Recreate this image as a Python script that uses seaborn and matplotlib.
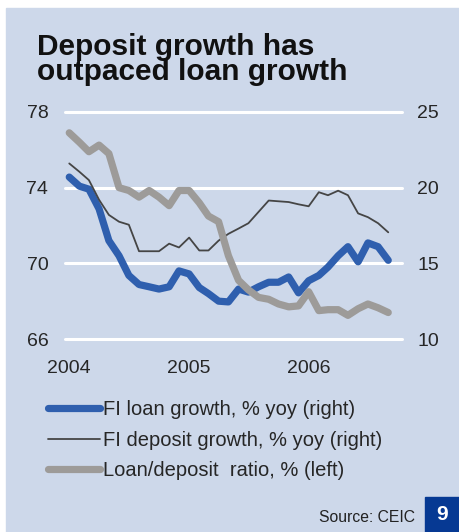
import pandas as pd
import seaborn as sns
import matplotlib.pyplot as plt
from matplotlib.patches import Rectangle
from matplotlib.lines import Line2D

# monthly data, Jan 2004 - Sep 2006
months = pd.date_range('2004-01-01', periods=33, freq='MS')

loan_growth = [20.7, 20.1, 19.9, 18.6, 16.5, 15.5, 14.2, 13.6, 13.45, 13.3, 13.45, 14.5,
               14.3, 13.4, 13.0, 12.5, 12.45, 13.3, 13.1, 13.45, 13.75, 13.75, 14.1, 13.05,
               13.85, 14.2, 14.75, 15.5, 16.1, 15.1, 16.35, 16.1, 15.2]
deposit_growth = [21.6, 21.05, 20.5, 19.2, 18.2, 17.75, 17.55, 15.8, 15.8, 15.8, 16.3, 16.05,
                  16.7, 15.85, 15.85, 16.5, 16.95, 17.3, 17.65, 18.4, 19.15, 19.1, 19.05, 18.9,
                  18.77, 19.7, 19.5, 19.8, 19.5, 18.3, 18.05, 17.65, 17.05]
ld_ratio = [76.9, 76.4, 75.9, 76.25, 75.8, 74.0, 73.85, 73.5, 73.85, 73.5, 73.05, 73.85,
            73.85, 73.2, 72.5, 72.2, 70.4, 69.1, 68.6, 68.2, 68.1, 67.85, 67.7, 67.75,
            68.5, 67.5, 67.55, 67.55, 67.25, 67.6, 67.85, 67.65, 67.4]

left_ticks = [66, 70, 74, 78]
right_ticks = [10, 15, 20, 25]
year_ticks = pd.to_datetime(['2004-01-01', '2005-01-01', '2006-01-01'])
year_labels = ['2004', '2005', '2006']

df = pd.DataFrame({'month': months, 'loan': loan_growth,
                   'deposit': deposit_growth, 'ratio': ld_ratio})

panel = '#cdd8ea'
blue = '#2f5fae'
dark = '#454545'
grey = '#9d9b99'

sns.set_style('white')
plt.rcParams['font.family'] = ['Liberation Sans', 'DejaVu Sans']

fig = plt.figure(figsize=(4.6, 5.32), dpi=100)
fig.patches.append(Rectangle((6 / 460, 0), 453 / 460, 524 / 532,
                             transform=fig.transFigure, color=panel, zorder=-10))

ax2 = fig.add_axes([65 / 460, 1 - 339 / 532, 337 / 460, 227 / 532])
ax = ax2.twinx()
ax.set_zorder(ax2.get_zorder() + 1)
ax.patch.set_visible(False)
ax2.set_facecolor(panel)

# right axis: growth rates
sns.lineplot(data=df, x='month', y='loan', ax=ax2, color=blue, linewidth=5.2,
             solid_capstyle='round', solid_joinstyle='round')
sns.lineplot(data=df, x='month', y='deposit', ax=ax2, color=dark, linewidth=1.3)
# left axis: loan/deposit ratio
sns.lineplot(data=df, x='month', y='ratio', ax=ax, color=grey, linewidth=5.2,
             solid_capstyle='round', solid_joinstyle='round')

ax2.set_ylim(10, 25)
ax2.set_yticks(right_ticks)
ax.set_ylim(66, 78)
ax.set_yticks(left_ticks)
ax2.set_xlim(pd.Timestamp('2003-12-19'), pd.Timestamp('2006-10-13'))
ax2.set_xticks(year_ticks)
ax2.set_xticklabels(year_labels)

# ax is the twin, so its ticks go on the right by default -> swap sides
ax.yaxis.tick_left()
ax2.yaxis.tick_right()
ax.tick_params(axis='y', length=0, labelsize=14, pad=12)
ax2.tick_params(axis='y', length=0, labelsize=14, pad=11)
ax2.tick_params(axis='x', length=0, labelsize=14, pad=15)

ax2.grid(axis='y', color='white', linewidth=2.2)
ax2.grid(axis='x', visible=False)
for gl in ax2.get_ygridlines():
    gl.set_clip_on(False)
ax.grid(False)

for a in (ax, ax2):
    a.set_xlabel('')
    a.set_ylabel('')
    for s in a.spines.values():
        s.set_visible(False)

fig.text(37 / 460, 1 - 80 / 532, 'Deposit growth has\noutpaced loan growth',
         fontsize=21.5, fontweight='heavy', va='baseline', ha='left',
         linespacing=0.88, color='#111111')

handles = [Line2D([], [], color=blue, linewidth=5.2, solid_capstyle='round'),
           Line2D([], [], color=dark, linewidth=1.3),
           Line2D([], [], color=grey, linewidth=5.2, solid_capstyle='round')]
labels = ['FI loan growth, % yoy (right)',
          'FI deposit growth, % yoy (right)',
          'Loan/deposit  ratio, % (left)']
fig.legend(handles, labels, loc='upper left', bbox_to_anchor=(40 / 460, 1 - 392 / 532),
           frameon=False, fontsize=14.5, handlelength=2.6, handletextpad=0.15,
           labelspacing=0.58, borderaxespad=0)

fig.text(415 / 460, 1 - 518 / 532, 'Source: CEIC', fontsize=11.3, ha='right',
         va='center', color='#222222')
fig.patches.append(Rectangle((425 / 460, 0), 35 / 460, 35 / 532,
                             transform=fig.transFigure, color='#063993', zorder=5))
fig.text(442 / 460, 1 - 515 / 532, '9', fontsize=15, fontweight='bold', color='white',
         ha='center', va='center', zorder=6)

fig.savefig('out.png', dpi=100, facecolor='white')
